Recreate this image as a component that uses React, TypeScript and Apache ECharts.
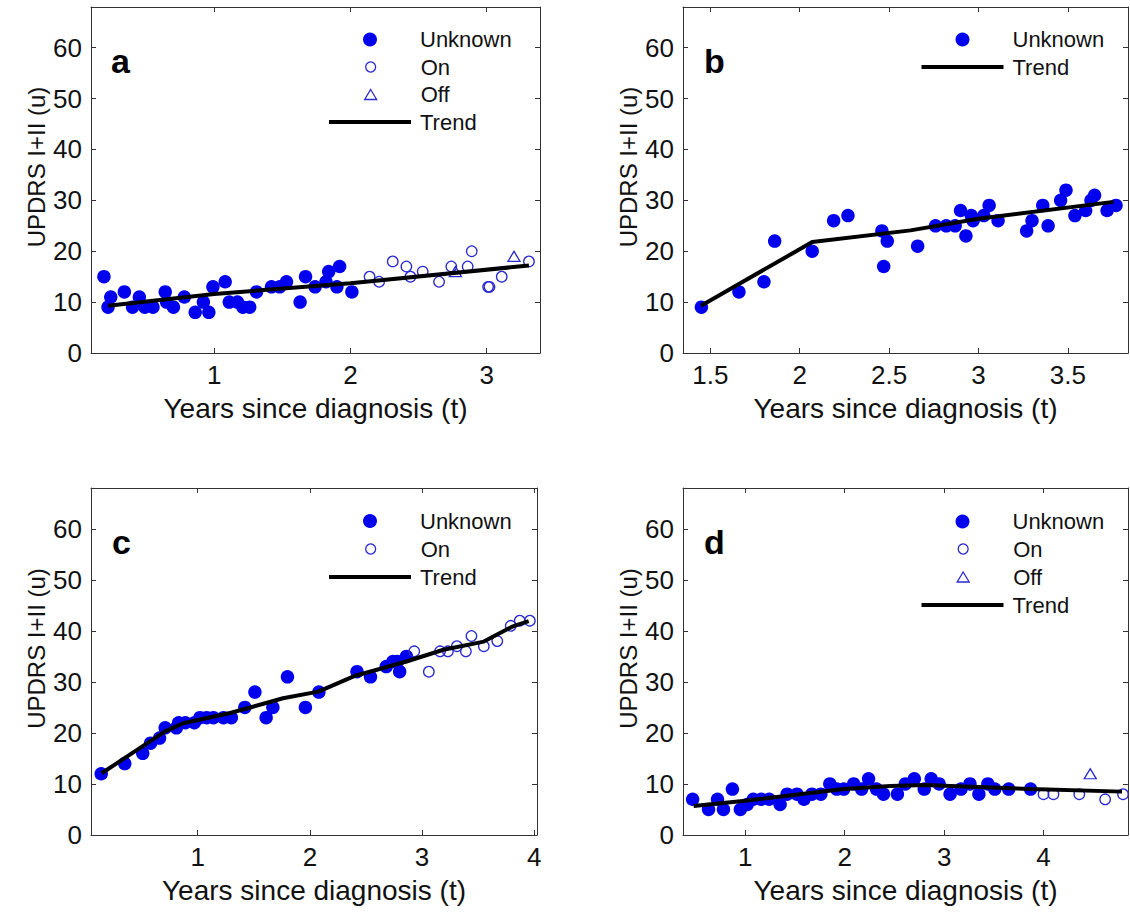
import React, { useEffect, useRef } from 'react';
import * as echarts from 'echarts';

// ---------- data ----------
const aUnknown: number[][] = [
  [0.19, 15], [0.22, 9], [0.24, 11], [0.34, 12], [0.40, 9], [0.45, 11], [0.49, 9], [0.55, 9],
  [0.64, 12], [0.65, 10], [0.70, 9], [0.78, 11], [0.86, 8], [0.92, 10], [0.96, 8], [0.99, 13],
  [1.08, 14], [1.11, 10], [1.17, 10], [1.21, 9], [1.26, 9], [1.31, 12], [1.42, 13], [1.48, 13],
  [1.53, 14], [1.63, 10], [1.67, 15], [1.74, 13], [1.82, 14], [1.84, 16], [1.90, 13], [1.92, 17],
  [2.01, 12],
];
const aOn: number[][] = [
  [2.14, 15], [2.21, 14], [2.31, 18], [2.41, 17], [2.44, 15], [2.53, 16], [2.65, 14], [2.74, 17],
  [2.86, 17], [2.89, 20], [3.01, 13], [3.02, 13], [3.11, 15], [3.31, 18],
];
const aOff: number[][] = [[2.77, 16], [3.20, 19]];
const aTrend: number[][] = [[0.22, 9.3], [1.0, 11.6], [2.0, 13.7], [3.31, 17.2]];

const bUnknown: number[][] = [
  [1.45, 9], [1.66, 12], [1.80, 14], [1.86, 22], [2.07, 20], [2.19, 26], [2.27, 27], [2.46, 24],
  [2.47, 17], [2.49, 22], [2.66, 21], [2.76, 25], [2.82, 25], [2.87, 25], [2.90, 28], [2.93, 23],
  [2.96, 27], [2.97, 26], [3.03, 27], [3.06, 29], [3.11, 26], [3.27, 24], [3.30, 26], [3.36, 29],
  [3.39, 25], [3.46, 30], [3.49, 32], [3.54, 27], [3.60, 28], [3.63, 30], [3.65, 31], [3.72, 28],
  [3.77, 29],
];
const bTrend: number[][] = [[1.448, 9.3], [2.07, 21.8], [2.62, 24.1], [3.0, 26.4], [3.755, 29.7]];

const cUnknown: number[][] = [
  [0.14, 12], [0.35, 14], [0.51, 16], [0.58, 18], [0.66, 19], [0.71, 21], [0.81, 21], [0.83, 22],
  [0.89, 22], [0.97, 22], [1.02, 23], [1.08, 23], [1.14, 23], [1.23, 23], [1.30, 23], [1.42, 25],
  [1.51, 28], [1.61, 23], [1.67, 25], [1.80, 31], [1.96, 25], [2.08, 28], [2.42, 32], [2.54, 31],
  [2.68, 33], [2.74, 34], [2.78, 34], [2.80, 32], [2.86, 35],
];
const cOn: number[][] = [
  [2.93, 36], [3.06, 32], [3.16, 36], [3.23, 36], [3.31, 37], [3.39, 36], [3.44, 39], [3.55, 37],
  [3.67, 38], [3.79, 41], [3.87, 42], [3.96, 42],
];
const cTrend: number[][] = [
  [0.144, 12.1], [0.71, 20.3], [0.87, 21.9], [1.29, 23.9], [1.76, 26.8], [2.075, 28.1],
  [2.39, 31.1], [2.86, 34.0], [3.19, 36.3], [3.55, 37.9], [3.81, 40.9], [3.95, 41.9],
];

const dUnknown: number[][] = [
  [0.47, 7], [0.63, 5], [0.72, 7], [0.78, 5], [0.87, 9], [0.95, 5], [1.02, 6], [1.08, 7],
  [1.16, 7], [1.24, 7], [1.35, 6], [1.42, 8], [1.52, 8], [1.59, 7], [1.67, 8], [1.76, 8],
  [1.85, 10], [1.92, 9], [1.99, 9], [2.09, 10], [2.17, 9], [2.24, 11], [2.32, 9], [2.39, 8],
  [2.53, 8], [2.61, 10], [2.70, 11], [2.80, 9], [2.87, 11], [2.95, 10], [3.06, 8], [3.17, 9],
  [3.26, 10], [3.35, 8], [3.44, 10], [3.51, 9], [3.65, 9], [3.87, 9],
];
const dOn: number[][] = [[4.00, 8], [4.10, 8], [4.36, 8], [4.62, 7], [4.80, 8]];
const dOff: number[][] = [[4.47, 12]];
const dTrend: number[][] = [[0.48, 5.7], [1.0, 6.7], [1.99, 9.0], [2.46, 9.6], [2.8, 9.8], [3.87, 9.0], [4.79, 8.5]];

const aXTicks = [1, 2, 3];
const bXTicks = [1.5, 2, 2.5, 3, 3.5];
const cXTicks = [1, 2, 3, 4];
const dXTicks = [1, 2, 3, 4];
const yTicks = [0, 10, 20, 30, 40, 50, 60];

const xTitle = 'Years since diagnosis (t)';
const yTitle = 'UPDRS I+II (u)';

// ---------- layout / style ----------
const FONT = '"Liberation Sans", Arial, Helvetica, sans-serif';
const AXIS = '#333333';
const BLUE = '#0000ee';
const OPEN = '#2a2ad0';

type Panel = {
  letter: string;
  grid: { left: number; top: number; width: number; height: number };
  xMin: number; xMax: number; xTicks: number[];
  unknown: number[][]; on?: number[][]; off?: number[][]; trend: number[][];
  legendLeft: number; legendRows: [string, number][];
  letterPos: [number, number];
};

const panels: Panel[] = [
  {
    letter: 'a', grid: { left: 91, top: 7, width: 449, height: 346 },
    xMin: 0.095, xMax: 3.391, xTicks: aXTicks,
    unknown: aUnknown, on: aOn, off: aOff, trend: aTrend,
    legendLeft: 329, legendRows: [['Unknown', 39.5], ['On', 67], ['Off', 94.5], ['Trend', 122]],
    letterPos: [111, 61],
  },
  {
    letter: 'b', grid: { left: 683, top: 7, width: 445, height: 346 },
    xMin: 1.347, xMax: 3.837, xTicks: bXTicks,
    unknown: bUnknown, trend: bTrend,
    legendLeft: 921.5, legendRows: [['Unknown', 39.5], ['Trend', 67]],
    letterPos: [704, 61],
  },
  {
    letter: 'c', grid: { left: 91, top: 488, width: 446, height: 347 },
    xMin: 0.049, xMax: 4.024, xTicks: cXTicks,
    unknown: cUnknown, on: cOn, trend: cTrend,
    legendLeft: 329, legendRows: [['Unknown', 521], ['On', 549], ['Trend', 577]],
    letterPos: [112, 542],
  },
  {
    letter: 'd', grid: { left: 683, top: 488, width: 445, height: 347 },
    xMin: 0.373, xMax: 4.85, xTicks: dXTicks,
    unknown: dUnknown, on: dOn, off: dOff, trend: dTrend,
    legendLeft: 921.5, legendRows: [['Unknown', 521.5], ['On', 549], ['Off', 577], ['Trend', 605]],
    letterPos: [704, 542],
  },
];

const LEG_W = 82; // width of the legend line sample
const TEXT_GAP = 9; // distance between sample box and label

function legendFor(name: string, boxLeft: number, cy: number) {
  const center = boxLeft + LEG_W / 2;
  const text = { fontSize: 22, lineHeight: 22, color: '#111', fontFamily: FONT } as any;
  const base = { top: cy - 11, padding: 0, orient: 'horizontal', selectedMode: false, data: [name] } as any;
  if (name === 'Trend') {
    return {
      ...base, left: boxLeft, itemWidth: LEG_W, itemHeight: 4, icon: 'rect',
      itemStyle: { color: '#000', borderWidth: 0 },
      textStyle: { ...text, padding: [0, 0, 0, TEXT_GAP - 5] },
    };
  }
  const size = name === 'Unknown' ? 14 : name === 'On' ? 10 : 12;
  const h = name === 'Off' ? 10 : size;
  const left = center - size / 2;
  const textPad = boxLeft + LEG_W + TEXT_GAP - (left + size + 5);
  const itemStyle = name === 'Unknown'
    ? { color: BLUE, borderWidth: 0 }
    : { color: 'rgba(0,0,0,0)', borderColor: OPEN, borderWidth: 1.3 };
  return {
    ...base, left, itemWidth: size, itemHeight: h,
    icon: name === 'Off' ? 'triangle' : 'circle',
    itemStyle,
    textStyle: { ...text, padding: [0, 0, 0, textPad] },
  };
}

function buildOption() {
  const grid: any[] = [];
  const xAxis: any[] = [];
  const yAxis: any[] = [];
  const series: any[] = [];
  const legend: any[] = [];
  const graphic: any[] = [];

  const tickStyle = { color: AXIS, width: 1 };
  panels.forEach((p, i) => {
    grid.push({ ...p.grid, containLabel: false });
    const xi = xAxis.length;
    xAxis.push({
      gridIndex: i, type: 'value', position: 'bottom', min: p.xMin, max: p.xMax,
      axisLine: { show: true, onZero: false, lineStyle: tickStyle },
      axisTick: { show: true, inside: true, length: 5, customValues: p.xTicks, lineStyle: tickStyle },
      axisLabel: {
        show: true, customValues: p.xTicks, margin: 9, fontSize: 26, color: '#111', fontFamily: FONT,
        formatter: (v: number) => String(v),
      },
      splitLine: { show: false },
      name: xTitle, nameLocation: 'middle', nameGap: 41,
      nameTextStyle: { fontSize: 28, color: '#111', fontFamily: FONT },
    });
    xAxis.push({
      gridIndex: i, type: 'value', position: 'top', min: p.xMin, max: p.xMax,
      axisLine: { show: true, onZero: false, lineStyle: tickStyle },
      axisTick: { show: true, inside: true, length: 5, customValues: p.xTicks, lineStyle: tickStyle },
      axisLabel: { show: false },
      splitLine: { show: false },
    });
    const yi = yAxis.length;
    yAxis.push({
      gridIndex: i, type: 'value', position: 'left', min: 0, max: 68,
      axisLine: { show: true, onZero: false, lineStyle: tickStyle },
      axisTick: { show: true, inside: true, length: 5, customValues: yTicks, lineStyle: tickStyle },
      axisLabel: { show: true, customValues: yTicks, margin: 9, fontSize: 26, color: '#111', fontFamily: FONT },
      splitLine: { show: false },
      name: yTitle, nameLocation: 'middle', nameGap: 43,
      nameTextStyle: { fontSize: 24, color: '#111', fontFamily: FONT, padding: [0, 0, 0, 26] },
    });
    yAxis.push({
      gridIndex: i, type: 'value', position: 'right', min: 0, max: 68,
      axisLine: { show: true, onZero: false, lineStyle: tickStyle },
      axisTick: { show: true, inside: true, length: 5, customValues: yTicks, lineStyle: tickStyle },
      axisLabel: { show: false },
      splitLine: { show: false },
    });

    series.push({
      name: 'Unknown', type: 'scatter', xAxisIndex: xi, yAxisIndex: yi, data: p.unknown,
      symbol: 'circle', symbolSize: 13.5, itemStyle: { color: BLUE, borderWidth: 0, opacity: 1 },
      z: 2,
    });
    if (p.on) {
      series.push({
        name: 'On', type: 'scatter', xAxisIndex: xi, yAxisIndex: yi, data: p.on,
        symbol: 'circle', symbolSize: 10.5,
        itemStyle: { color: 'rgba(0,0,0,0)', borderColor: OPEN, borderWidth: 1.3, opacity: 1 },
        z: 2,
      });
    }
    if (p.off) {
      series.push({
        name: 'Off', type: 'scatter', xAxisIndex: xi, yAxisIndex: yi, data: p.off,
        symbol: 'triangle', symbolSize: [12, 10],
        itemStyle: { color: 'rgba(0,0,0,0)', borderColor: OPEN, borderWidth: 1.3, opacity: 1 },
        z: 2,
      });
    }
    series.push({
      name: 'Trend', type: 'line', xAxisIndex: xi, yAxisIndex: yi, data: p.trend,
      symbol: 'none', showSymbol: false, smooth: false,
      lineStyle: { color: '#000', width: 4 }, itemStyle: { color: '#000' },
      z: 3,
    });

    p.legendRows.forEach(([name, cy]) => legend.push(legendFor(name, p.legendLeft, cy)));

    graphic.push({
      type: 'text', x: p.letterPos[0], y: p.letterPos[1],
      style: {
        text: p.letter, fill: '#000', fontSize: 34, fontWeight: 'bold', fontFamily: FONT,
        verticalAlign: 'middle', align: 'left',
      },
    });
  });

  return {
    animation: false,
    backgroundColor: '#ffffff',
    textStyle: { fontFamily: FONT },
    grid, xAxis, yAxis, series, legend, graphic,
  };
}

export default function App() {
  const ref = useRef<HTMLDivElement>(null);
  useEffect(() => {
    if (!ref.current) return;
    const chart = echarts.init(ref.current, undefined, { renderer: 'svg' });
    chart.setOption(buildOption() as any);
    return () => chart.dispose();
  }, []);
  return (
    <div
      ref={ref}
      style={{ position: 'absolute', left: 0, top: 0, width: 1130, height: 913, background: '#fff' }}
    />
  );
}
